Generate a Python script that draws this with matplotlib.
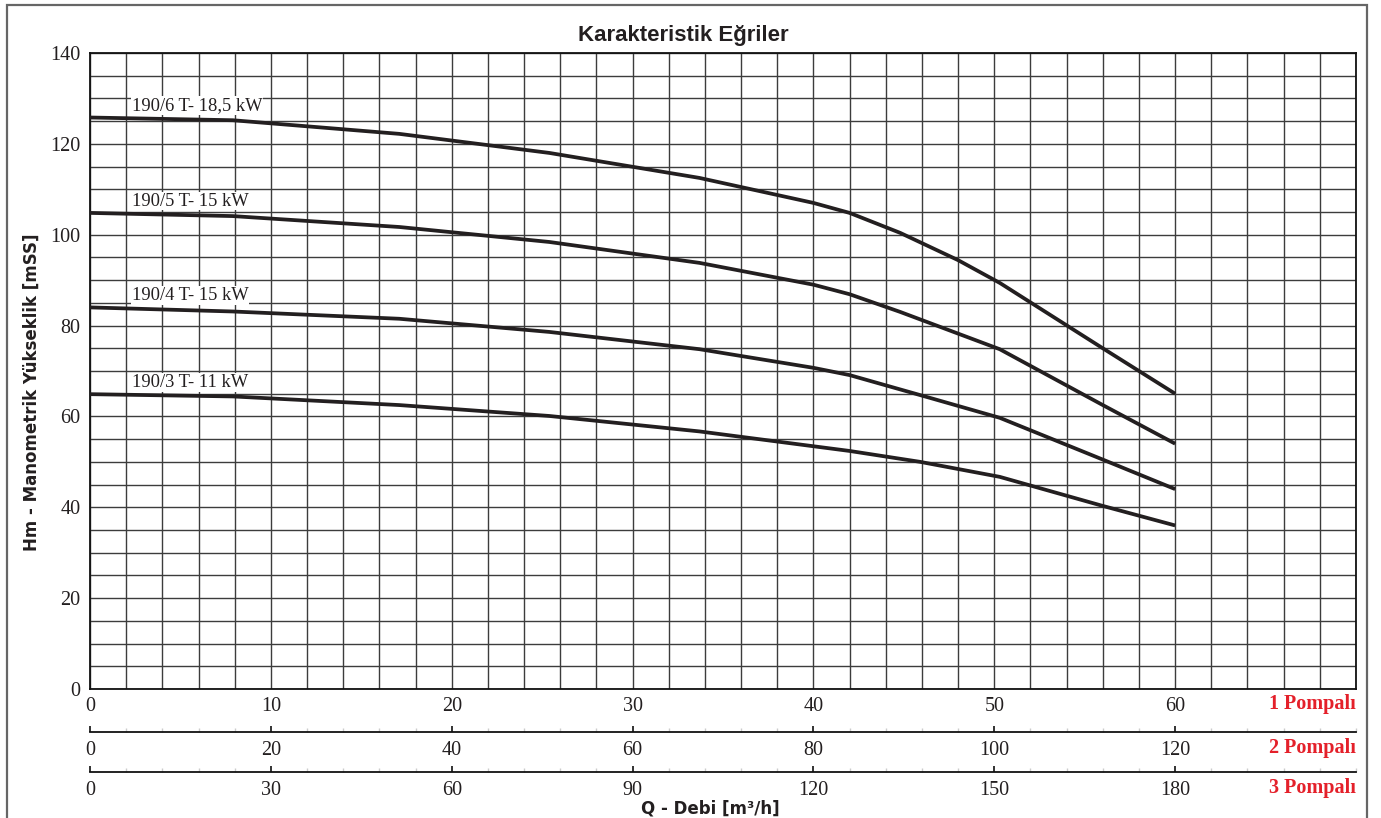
import numpy as np
import matplotlib
matplotlib.use('Agg')
import matplotlib.pyplot as plt
from matplotlib.ticker import MultipleLocator, FixedLocator
from matplotlib.patches import Rectangle

# debi (1 pompa, m3/h) ve basma yüksekliği (mSS)
q_6 = [0, 7.9, 17.1, 25.4, 33.7, 40, 42, 44.8, 48, 50.3, 56, 60]
h_6 = [125.8, 125.2, 122.2, 118, 112.5, 107, 104.8, 100.4, 94.4, 89.4, 75, 65]

q_5 = [0, 7.9, 17.1, 25.4, 33.7, 40, 42, 44.8, 50.3, 56, 60]
h_5 = [104.8, 104.1, 101.7, 98.4, 93.8, 89, 86.9, 83, 74.8, 62.5, 54]

q_4 = [0, 7.9, 17.1, 25.4, 33.7, 40, 42, 45.9, 50.3, 56, 60]
h_4 = [84, 83.1, 81.5, 78.6, 74.8, 70.7, 69.1, 64.7, 59.7, 50.5, 44]

q_3 = [0, 7.9, 17.1, 25.4, 33.7, 42, 45.9, 50.3, 56, 60]
h_3 = [64.9, 64.4, 62.5, 60.1, 56.7, 52.4, 50, 46.7, 40.3, 36]

curve_names = ['190/6 T- 18,5 kW', '190/5 T- 15 kW', '190/4 T- 15 kW', '190/3 T- 11 kW']
curves_q = [q_6, q_5, q_4, q_3]
curves_h = [h_6, h_5, h_4, h_3]

x_ticks_1 = [0, 10, 20, 30, 40, 50, 60]
x_ticks_2 = [0, 20, 40, 60, 80, 100, 120]
x_ticks_3 = [0, 30, 60, 90, 120, 150, 180]
y_ticks = [0, 20, 40, 60, 80, 100, 120, 140]
pump_labels = ['1 Pompalı', '2 Pompalı', '3 Pompalı']

W, H = 1381, 818
fig = plt.figure(figsize=(W / 100, H / 100), dpi=100)
serif = 'Liberation Serif'
red = '#e4202a'

ax = fig.add_axes([90 / W, 1 - 689 / H, (1356 - 90) / W, (689 - 53) / H])
ax.set_xlim(0, 70)
ax.set_ylim(0, 140)

ax.xaxis.set_major_locator(FixedLocator(x_ticks_1))
ax.xaxis.set_minor_locator(MultipleLocator(2))
ax.yaxis.set_major_locator(FixedLocator(y_ticks))
ax.yaxis.set_minor_locator(MultipleLocator(5))
ax.grid(True, which='both', color='#3c3c3c', lw=1.0)
ax.set_axisbelow(True)
ax.tick_params(which='both', length=0)
ax.tick_params(axis='x', pad=5.5)
ax.tick_params(axis='y', pad=7)
for lab in ax.get_xticklabels() + ax.get_yticklabels():
    lab.set_fontfamily(serif)
    lab.set_fontsize(14.5)
    lab.set_color('#231f20')
for s in ax.spines.values():
    s.set_color('#111111')
    s.set_linewidth(1.3)

for qq, hh, name in zip(curves_q, curves_h, curve_names):
    ax.plot(qq, hh, color='#231f20', lw=2.7, solid_capstyle='butt', zorder=3)
    ax.text(2.3, hh[0] + 2.6, name, fontfamily=serif, fontsize=13.3, color='#231f20',
            va='center', ha='left', zorder=4,
            bbox=dict(facecolor='white', edgecolor='none', pad=0.5))

# 2 ve 3 pompa için ek eksenler
for loc, mult, ticks in [(-0.0676, 2, x_ticks_2), (-0.1305, 3, x_ticks_3)]:
    sec = ax.secondary_xaxis(loc, functions=(lambda x, m=mult: x * m,
                                               lambda x, m=mult: x / m))
    sec.xaxis.set_major_locator(FixedLocator(ticks))
    sec.xaxis.set_minor_locator(MultipleLocator(2 * mult))
    sec.tick_params(which='major', direction='in', length=4, width=1.2,
                    color='#111111', pad=6.5)
    sec.tick_params(which='minor', direction='in', length=3, width=1.0,
                    color='#cccccc')
    sec.spines['bottom'].set_linewidth(1.3)
    sec.spines['bottom'].set_color('#111111')
    for lab in sec.get_xticklabels():
        lab.set_fontfamily(serif)
        lab.set_fontsize(14.5)
        lab.set_color('#231f20')

for lab, ypx in zip(pump_labels, [704, 748, 788]):
    fig.text(1356 / W, 1 - ypx / H, lab, ha='right', va='center', color=red,
             fontfamily=serif, fontweight='bold', fontsize=14.5)

fig.text(683 / W, 1 - 35 / H, 'Karakteristik Eğriler', ha='center', va='center',
         fontfamily=['Liberation Sans Narrow', 'Liberation Sans', 'DejaVu Sans'],
         fontweight='bold', fontsize=16, color='#231f20')
fig.text(32 / W, 1 - 392 / H, 'Hm - Manometrik Yükseklik [mSS]', rotation=90,
         ha='center', va='center', fontfamily='DejaVu Sans', fontweight='bold',
         fontsize=12, color='#231f20')
fig.text(710 / W, 1 - 808 / H, 'Q - Debi [m³/h]', ha='center', va='center',
         fontfamily='DejaVu Sans', fontweight='bold', fontsize=12, color='#231f20')

# dış çerçeve
fig.patches.append(Rectangle((7 / W, -0.05), (1367 - 7) / W, 1.05 - 5.5 / H,
                             transform=fig.transFigure, fill=False,
                             edgecolor='#666666', lw=1.6))

fig.savefig('out.png', dpi=100)
